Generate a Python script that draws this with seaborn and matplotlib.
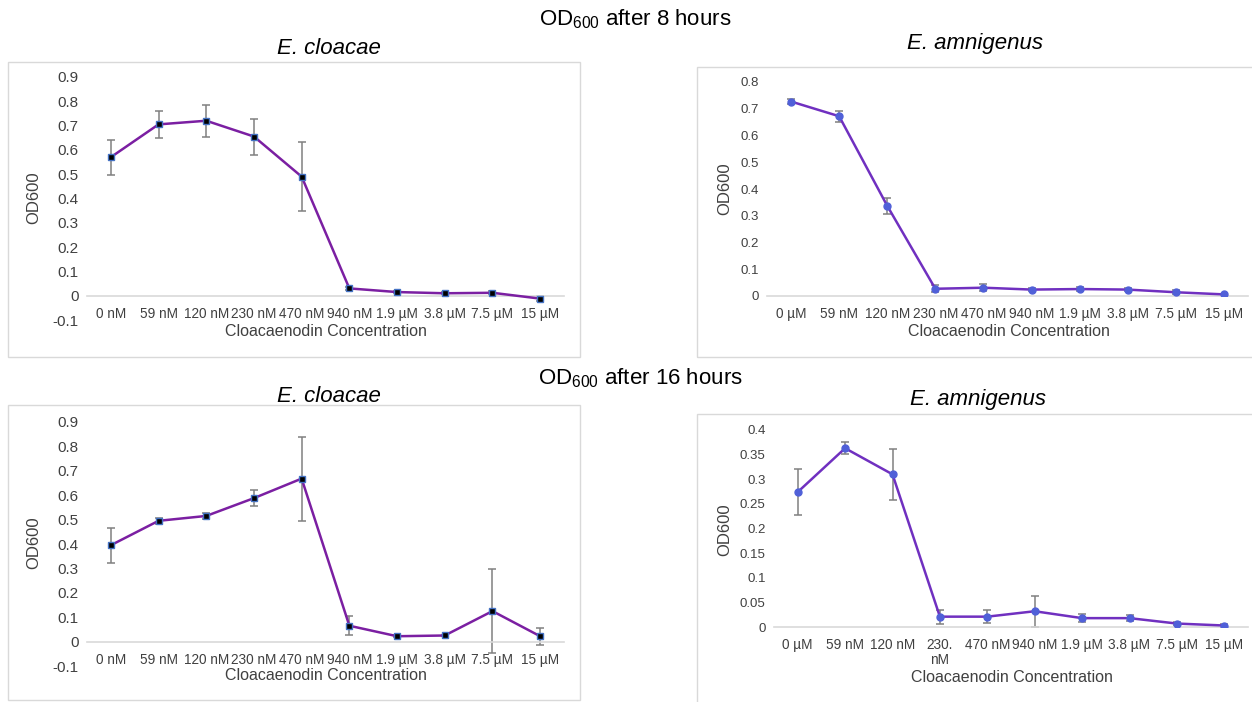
import pandas as pd
import seaborn as sns
import matplotlib.pyplot as plt
from matplotlib.patches import Rectangle

W, H = 1252, 702

# category labels
labels_clo = ['0 nM', '59 nM', '120 nM', '230 nM', '470 nM', '940 nM',
              '1.9 µM', '3.8 µM', '7.5 µM', '15 µM']
labels_amn_8h = ['0 µM', '59 nM', '120 nM', '230 nM', '470 nM', '940 nM',
                 '1.9 µM', '3.8 µM', '7.5 µM', '15 µM']
labels_amn_16h = ['0 µM', '59 nM', '120 nM', '230.\nnM', '470 nM', '940 nM',
                  '1.9 µM', '3.8 µM', '7.5 µM', '15 µM']

# OD600 means and error bars
clo_8h = [0.57, 0.705, 0.72, 0.655, 0.49, 0.03, 0.015, 0.01, 0.012, -0.012]
clo_8h_err = [0.072, 0.057, 0.066, 0.074, 0.143, 0.005, 0.005, 0.004, 0.006, 0.01]
amn_8h = [0.727, 0.672, 0.337, 0.027, 0.031, 0.024, 0.026, 0.024, 0.014, 0.006]
amn_8h_err = [0.01, 0.02, 0.03, 0.013, 0.013, 0.005, 0.006, 0.005, 0.007, 0.003]
clo_16h = [0.395, 0.495, 0.515, 0.588, 0.668, 0.065, 0.022, 0.025, 0.125, 0.022]
clo_16h_err = [0.072, 0.012, 0.012, 0.033, 0.172, 0.04, 0.003, 0.004, 0.172, 0.035]
amn_16h = [0.274, 0.363, 0.31, 0.021, 0.021, 0.032, 0.018, 0.018, 0.007, 0.003]
amn_16h_err = [0.047, 0.012, 0.052, 0.014, 0.013, 0.031, 0.008, 0.006, 0.003, 0.004]

sns.set_theme(style='white')
plt.rcParams['font.family'] = ['Liberation Sans', 'DejaVu Sans']
plt.rcParams['mathtext.fontset'] = 'custom'
plt.rcParams['mathtext.rm'] = 'Liberation Sans'

fig = plt.figure(figsize=(W / 100, H / 100), dpi=100, facecolor='white')


def fx(x):
    return x / W


def fy(y):
    return 1 - y / H


def add_box(x0, y0, x1, y1):
    fig.patches.append(Rectangle((fx(x0), fy(y1)), fx(x1 - x0), (y1 - y0) / H,
                                 transform=fig.transFigure, fill=False,
                                 edgecolor='#d9d9d9', lw=1))


def draw_panel(rect, labels, values, errors, ylim, yticks, line_color,
               marker, mface, medge, ytick_size, ylabel_xy, xlabel_xy):
    x0, y0, x1, y1 = rect
    ax = fig.add_axes([fx(x0), fy(y1), fx(x1 - x0), (y1 - y0) / H])
    df = pd.DataFrame({'pos': range(len(labels)), 'od': values, 'err': errors})
    ax.errorbar(df['pos'], df['od'], yerr=df['err'], fmt='none',
                ecolor='#808080', elinewidth=1.1, capsize=3, capthick=1.1,
                zorder=2)
    sns.lineplot(data=df, x='pos', y='od', ax=ax, color=line_color, lw=1.8,
                 marker=marker, markersize=5, markerfacecolor=mface,
                 markeredgecolor=medge, markeredgewidth=1, zorder=3)
    ax.set_xlim(-0.5, len(labels) - 0.5)
    ax.set_ylim(*ylim)
    for side in ['top', 'left', 'right']:
        ax.spines[side].set_visible(False)
    ax.spines['bottom'].set_position(('data', 0))
    ax.spines['bottom'].set_color('#d9d9d9')
    ax.spines['bottom'].set_linewidth(1.2)
    ax.set_facecolor('none')
    ax.set_xticks(range(len(labels)))
    ax.set_xticklabels(labels, fontsize=9.8, color='#404040', linespacing=1.05)
    ax.set_yticks(yticks)
    ax.set_yticklabels([f'{v:g}' for v in yticks], fontsize=ytick_size,
                       color='#404040')
    ax.tick_params(length=0, pad=6)
    ax.tick_params(axis='x', pad=8)
    ax.set_xlabel('')
    ax.set_ylabel('')
    fig.text(fx(ylabel_xy[0]), fy(ylabel_xy[1]), 'OD600', rotation=90,
             ha='center', va='center', fontsize=12, color='#404040')
    fig.text(fx(xlabel_xy[0]), fy(xlabel_xy[1]), 'Cloacaenodin Concentration',
             ha='center', va='center', fontsize=11.5, color='#404040')
    return ax


# chart frames
add_box(8, 62, 580, 357)
add_box(697, 67, 1262, 357)
add_box(8, 405, 580, 700)
add_box(697, 414, 1262, 712)

left_ticks = [round(-0.1 + 0.1 * i, 1) for i in range(11)]
amn8_ticks = [round(0.1 * i, 1) for i in range(9)]
amn16_ticks = [round(0.05 * i, 2) for i in range(9)]

draw_panel((87, 77, 564, 320), labels_clo, clo_8h, clo_8h_err, (-0.1, 0.9),
           left_ticks, '#7B1FA2', 's', 'black', '#4472C4', 11,
           (34, 198), (326, 332))
draw_panel((767, 82, 1248, 296), labels_amn_8h, amn_8h, amn_8h_err, (0, 0.8),
           amn8_ticks, '#7030C0', 'o', '#5060D8', '#5060D8', 9.5,
           (725, 189), (1009, 332))
draw_panel((87, 422, 564, 666), labels_clo, clo_16h, clo_16h_err, (-0.1, 0.9),
           left_ticks, '#7B1FA2', 's', 'black', '#4472C4', 11,
           (34, 543), (326, 676))
draw_panel((774, 430, 1248, 627), labels_amn_16h, amn_16h, amn_16h_err,
           (0, 0.4), amn16_ticks, '#7030C0', 'o', '#5060D8', '#5060D8', 9.5,
           (725, 530), (1012, 678))

fig.text(fx(635), fy(19), r'OD$_{600}$ after 8 hours', ha='center',
         va='center', fontsize=16, color='black')
fig.text(fx(640), fy(378), r'OD$_{600}$ after 16 hours', ha='center',
         va='center', fontsize=16, color='black')
for x, y, name in [(329, 49, 'E. cloacae'), (975, 43, 'E. amnigenus'),
                   (329, 397, 'E. cloacae'), (978, 400, 'E. amnigenus')]:
    fig.text(fx(x), fy(y), name, ha='center', va='center', fontsize=16,
             style='italic', color='black')

fig.savefig('out.png', dpi=100, facecolor='white')
